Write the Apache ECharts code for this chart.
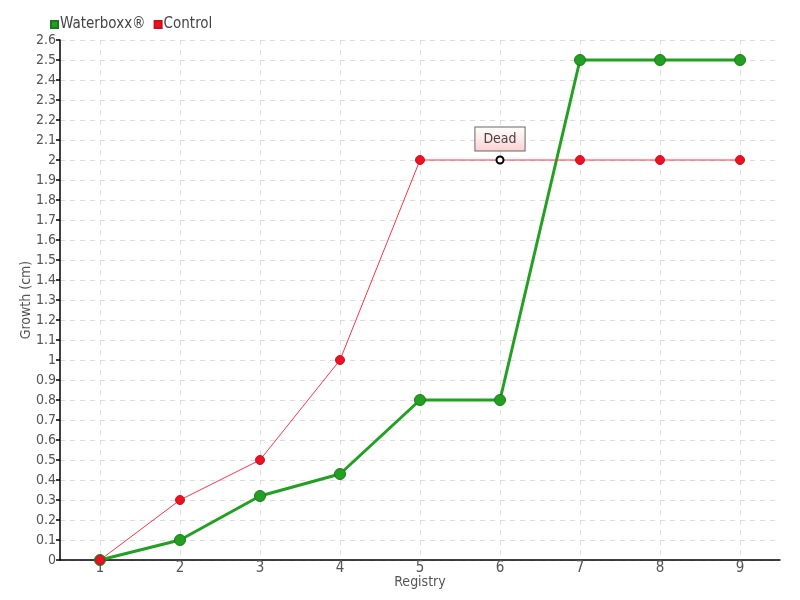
<!DOCTYPE html>
<html><head><meta charset="utf-8">
<script src="https://cdn.jsdelivr.net/npm/echarts@6/dist/echarts.min.js"></script>
<style>html,body{margin:0;padding:0;background:#fff}#c{width:800px;height:600px}</style>
</head><body><div id="c"></div>
<script>
const categories = ['1','2','3','4','5','6','7','8','9'];
const waterboxx = [0, 0.1, 0.32, 0.43, 0.8, 0.8, 2.5, 2.5, 2.5];
const control = [0, 0.3, 0.5, 1, 2, 2, 2, 2, 2];
const deadIndex = 5;
const deadLabel = 'Dead';
const FONT = '"DejaVu Sans Condensed", sans-serif';

const controlData = control.map((v, i) => i === deadIndex ? {
  value: v,
  symbolSize: 7,
  itemStyle: { color: '#fff', borderColor: '#000', borderWidth: 2 },
  label: {
    show: true, position: 'top', distance: 5, formatter: deadLabel,
    fontFamily: FONT, fontSize: 14, color: '#444',
    backgroundColor: { type: 'linear', x: 0, y: 0, x2: 0, y2: 1,
      colorStops: [{ offset: 0, color: '#ffffff' }, { offset: 1, color: '#fdd0d0' }] },
    borderColor: '#666', borderWidth: 1, padding: [5, 8, 4, 8]
  }
} : v);

const chart = echarts.init(document.getElementById('c'));
chart.setOption({
  animation: false,
  textStyle: { fontFamily: FONT },
  legend: {
    left: 45, top: 12, itemWidth: 7, itemHeight: 7, itemGap: 8,
    icon: 'rect',
    textStyle: { fontFamily: FONT, fontSize: 15, color: '#444', padding: [0, 0, 0, -3] },
    data: ['Waterboxx®', 'Control']
  },
  grid: { left: 60, right: 20, top: 40, height: 520, outerBoundsMode: 'none', containLabel: false },
  xAxis: {
    type: 'category', data: categories, boundaryGap: true,
    name: 'Registry', nameLocation: 'middle', nameGap: 15, nameMoveOverlap: false,
    nameTextStyle: { fontFamily: FONT, fontSize: 14, color: '#555' },
    axisLine: { lineStyle: { color: '#000', width: 1.5 } },
    axisTick: { show: false, alignWithLabel: true },
    axisLabel: { fontFamily: FONT, fontSize: 15, color: '#555', margin: 1 },
    splitLine: { show: true, interval: 0, alignWithLabel: true, lineStyle: { color: '#ddd', type: [5, 5] } }
  },
  yAxis: {
    type: 'value', min: 0, max: 2.6, interval: 0.1,
    name: 'Growth (cm)', nameLocation: 'middle', nameGap: 27, nameMoveOverlap: false,
    nameTextStyle: { fontFamily: FONT, fontSize: 14, color: '#555' },
    axisLine: { show: true, lineStyle: { color: '#000', width: 1.5 } },
    axisTick: { show: true, length: 4, lineStyle: { color: '#000', width: 1.5 } },
    axisLabel: { fontFamily: FONT, fontSize: 14, color: '#555', margin: 4,
      formatter: v => String(Math.round(v * 10) / 10) },
    splitLine: { show: true, lineStyle: { color: '#ddd', type: [5, 5] } }
  },
  series: [
    {
      name: 'Waterboxx®', type: 'line', data: waterboxx,
      symbol: 'circle', symbolSize: 11,
      itemStyle: { color: '#22a022', borderColor: '#1a7a1a', borderWidth: 1 },
      lineStyle: { color: '#22a022', width: 3 }
    },
    {
      name: 'Control', type: 'line', data: controlData,
      symbol: 'circle', symbolSize: 9,
      itemStyle: { color: '#ee1122', borderColor: '#cc1020', borderWidth: 1 },
      lineStyle: { color: '#ff3344', width: 1 }
    }
  ]
});
</script></body></html>
